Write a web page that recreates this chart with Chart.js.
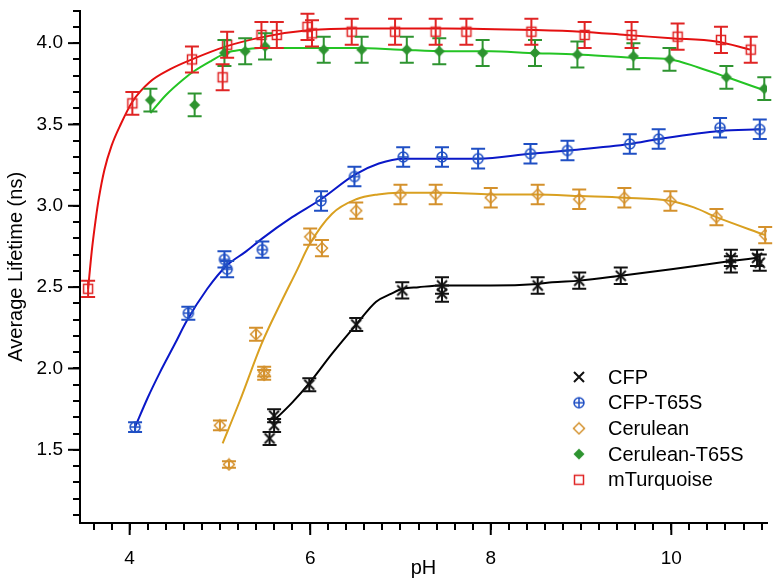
<!DOCTYPE html>
<html>
<head>
<meta charset="utf-8">
<script src="https://cdn.jsdelivr.net/npm/chart.js@4.4.0/dist/chart.umd.min.js"></script>
<style>
  html, body { margin: 0; padding: 0; background: #fff; }
  canvas { display: block; }
</style>
</head>
<body>
<canvas id="chart" width="782" height="586"></canvas>
<script>
const FONT = "'Liberation Sans', Arial, Helvetica, sans-serif"

// measured points: pH, average lifetime (ns), error
const phCFP  = [5.55, 5.60, 5.60, 5.99, 6.51, 7.02, 7.46, 7.46, 8.52, 8.98, 9.44, 10.66, 10.66, 10.95, 10.98]
const tauCFP = [1.57, 1.65, 1.71, 1.90, 2.27, 2.48, 2.51, 2.46, 2.51, 2.54, 2.57, 2.68, 2.64, 2.68, 2.65]
const errCFP = [0.04, 0.04, 0.04, 0.04, 0.04, 0.05, 0.05, 0.05, 0.05, 0.05, 0.05, 0.05, 0.05, 0.05, 0.05]

const phT65S  = [4.06, 4.65, 5.05, 5.08, 5.47, 6.12, 6.49, 7.03, 7.46, 7.86, 8.44, 8.85, 9.54, 9.86, 10.54, 10.98]
const tauT65S = [1.64, 2.34, 2.67, 2.61, 2.73, 3.03, 3.18, 3.30, 3.30, 3.29, 3.32, 3.34, 3.38, 3.41, 3.48, 3.47]
const errT65S = [0.03, 0.04, 0.05, 0.05, 0.05, 0.06, 0.06, 0.06, 0.06, 0.06, 0.06, 0.06, 0.06, 0.06, 0.06, 0.06]

const phCer  = [5.00, 5.10, 5.40, 5.49, 5.49, 6.00, 6.13, 6.51, 7.00, 7.39, 8.00, 8.52, 8.98, 9.48, 9.99, 10.50, 11.04]
const tauCer = [1.65, 1.41, 2.21, 1.98, 1.96, 2.81, 2.74, 2.97, 3.07, 3.07, 3.05, 3.07, 3.04, 3.05, 3.03, 2.93, 2.82]
const errCer = [0.03, 0.02, 0.04, 0.03, 0.03, 0.05, 0.05, 0.05, 0.06, 0.06, 0.06, 0.06, 0.06, 0.06, 0.06, 0.05, 0.05]

const phCerT  = [4.23, 4.72, 5.05, 5.28, 5.50, 6.15, 6.57, 7.07, 7.43, 7.91, 8.49, 8.96, 9.58, 9.98, 10.61, 11.03]
const tauCerT = [3.65, 3.62, 3.94, 3.95, 3.98, 3.96, 3.96, 3.96, 3.95, 3.94, 3.94, 3.93, 3.92, 3.90, 3.79, 3.72]
const errCerT = [0.07, 0.07, 0.08, 0.08, 0.08, 0.08, 0.08, 0.08, 0.08, 0.08, 0.08, 0.08, 0.08, 0.07, 0.07, 0.07]

const phTurq  = [3.54, 4.03, 4.69, 5.03, 5.08, 5.46, 5.63, 5.97, 6.02, 6.46, 6.94, 7.39, 7.73, 8.45, 9.04, 9.56, 10.07, 10.55, 10.88]
const tauTurq = [2.49, 3.63, 3.90, 3.79, 3.99, 4.05, 4.05, 4.10, 4.06, 4.07, 4.07, 4.07, 4.07, 4.07, 4.05, 4.05, 4.04, 4.02, 3.96]
const errTurq = [0.05, 0.07, 0.08, 0.08, 0.08, 0.08, 0.08, 0.08, 0.08, 0.08, 0.08, 0.08, 0.08, 0.08, 0.08, 0.08, 0.08, 0.08, 0.08]

// fitted curves
const fitCFPx = [5.60, 5.80, 5.99, 6.24, 6.51, 6.73, 6.90, 7.02, 7.20, 7.46, 8.00, 8.52, 8.68, 8.98, 9.44, 10.00, 10.66, 10.95]
const fitCFPy = [1.68, 1.79, 1.91, 2.09, 2.27, 2.41, 2.46, 2.49, 2.50, 2.51, 2.51, 2.52, 2.53, 2.54, 2.57, 2.61, 2.66, 2.68]

const fitT65Sx = [4.06, 4.20, 4.33, 4.50, 4.63, 4.86, 5.07, 5.29, 5.47, 5.80, 6.12, 6.49, 6.76, 7.03, 7.46, 7.86, 8.44, 8.85, 9.54, 9.86, 10.54, 10.98]
const fitT65Sy = [1.64, 1.82, 1.97, 2.15, 2.29, 2.49, 2.63, 2.72, 2.80, 2.93, 3.04, 3.19, 3.26, 3.29, 3.29, 3.29, 3.32, 3.34, 3.38, 3.41, 3.46, 3.47]

const fitCerx = [5.03, 5.22, 5.46, 5.68, 5.85, 5.99, 6.24, 6.51, 6.75, 6.98, 7.50, 8.00, 8.50, 9.00, 9.48, 9.99, 10.25, 10.50, 11.04]
const fitCery = [1.54, 1.80, 2.15, 2.41, 2.60, 2.76, 2.95, 3.04, 3.07, 3.08, 3.08, 3.07, 3.07, 3.06, 3.05, 3.03, 2.99, 2.93, 2.82]

const fitCerTx = [4.23, 4.40, 4.60, 4.72, 4.90, 5.07, 5.25, 5.44, 5.70, 6.00, 6.50, 7.00, 7.50, 8.00, 8.42, 8.96, 9.58, 9.99, 10.30, 10.62, 11.03]
const fitCerTy = [3.57, 3.68, 3.78, 3.83, 3.89, 3.94, 3.96, 3.97, 3.97, 3.97, 3.97, 3.96, 3.95, 3.95, 3.94, 3.93, 3.91, 3.90, 3.85, 3.79, 3.71]

const fitTurqx = [3.54, 3.58, 3.62, 3.66, 3.72, 3.80, 3.90, 4.03, 4.22, 4.45, 4.69, 5.07, 5.50, 6.00, 6.50, 7.50, 8.50, 9.00, 9.50, 10.00, 10.50, 10.88]
const fitTurqy = [2.49, 2.72, 2.90, 3.05, 3.22, 3.37, 3.50, 3.64, 3.76, 3.84, 3.90, 3.98, 4.04, 4.08, 4.09, 4.09, 4.08, 4.07, 4.05, 4.03, 4.01, 3.96]

const seriesNames = ["CFP", "CFP-T65S", "Cerulean", "Cerulean-T65S", "mTurquoise"]

const series = [
    {xs: phCFP,  ys: tauCFP,  errs: errCFP,  fx: fitCFPx,  fy: fitCFPy,  marker: "x",           color: "#111111", line: "#000000"},
    {xs: phT65S, ys: tauT65S, errs: errT65S, fx: fitT65Sx, fy: fitT65Sy, marker: "circlePlus",  color: "#1f4fc4", line: "#0a18c8"},
    {xs: phCer,  ys: tauCer,  errs: errCer,  fx: fitCerx,  fy: fitCery,  marker: "diamond",     color: "#d4912c", line: "#d9a020"},
    {xs: phCerT, ys: tauCerT, errs: errCerT, fx: fitCerTx, fy: fitCerTy, marker: "diamondFill", color: "#2e9430", line: "#24c424"},
    {xs: phTurq, ys: tauTurq, errs: errTurq, fx: fitTurqx, fy: fitTurqy, marker: "square",      color: "#e02424", line: "#e41010"}
]

function makeMarker(kind, color){
    const size = 14
    const c = document.createElement("canvas")
    c.width = size
    c.height = size
    const g = c.getContext("2d")
    g.strokeStyle = color
    g.fillStyle = color
    g.lineWidth = 1.5
    const m = size / 2
    g.beginPath()
    if (kind === "x"){
        g.lineWidth = 2
        g.moveTo(m - 5, m - 5); g.lineTo(m + 5, m + 5)
        g.moveTo(m + 5, m - 5); g.lineTo(m - 5, m + 5)
        g.stroke()
    } else if (kind === "circlePlus"){
        g.arc(m, m, 5, 0, Math.PI * 2)
        g.moveTo(m - 5, m); g.lineTo(m + 5, m)
        g.moveTo(m, m - 5); g.lineTo(m, m + 5)
        g.stroke()
    } else if (kind === "diamond" || kind === "diamondFill"){
        g.moveTo(m, m - 5.5); g.lineTo(m + 5.5, m); g.lineTo(m, m + 5.5); g.lineTo(m - 5.5, m)
        g.closePath()
        if (kind === "diamondFill") g.fill()
        else g.stroke()
    } else {
        g.rect(m - 4.5, m - 4.5, 9, 9)
        g.stroke()
    }
    return c
}

function points(xs, ys){
    return xs.map((x, i) => ({x: x, y: ys[i]}))
}

const datasets = []
series.forEach((s, i) => {
    s.img = makeMarker(s.marker, s.color)
    datasets.push({
        label: seriesNames[i],
        data: points(s.xs, s.ys),
        errors: s.errs,
        errColor: s.color,
        pointStyle: s.img,
        pointRadius: 7,
        showLine: false
    })
    datasets.push({
        label: seriesNames[i] + " fit",
        data: points(s.fx, s.fy),
        showLine: true,
        borderColor: s.line,
        borderWidth: 2,
        pointRadius: 0,
        cubicInterpolationMode: "monotone",
        fill: false
    })
})

// error bars with caps
const errorBars = {
    id: "errorBars",
    afterDatasetsDraw(chart){
        const ctx = chart.ctx
        const xs = chart.scales.x, ys = chart.scales.y
        ctx.save()
        chart.data.datasets.forEach(ds => {
            if (!ds.errors) return
            ctx.strokeStyle = ds.errColor
            ctx.lineWidth = 2
            ds.data.forEach((p, i) => {
                const px = xs.getPixelForValue(p.x)
                const top = ys.getPixelForValue(p.y + ds.errors[i])
                const bot = ys.getPixelForValue(p.y - ds.errors[i])
                ctx.beginPath()
                ctx.moveTo(px, top); ctx.lineTo(px, bot)
                ctx.moveTo(px - 7, top); ctx.lineTo(px + 7, top)
                ctx.moveTo(px - 7, bot); ctx.lineTo(px + 7, bot)
                ctx.stroke()
            })
        })
        ctx.restore()
    }
}

// lengthen the labelled (major) tick marks
const majorTicks = {
    id: "majorTicks",
    afterDraw(chart){
        const ctx = chart.ctx
        const area = chart.chartArea
        ctx.save()
        ctx.strokeStyle = "#000"
        ctx.lineWidth = 2
        const sx = chart.scales.x
        for (let v = 4; v <= sx.max; v += 2){
            const px = sx.getPixelForValue(v)
            ctx.beginPath()
            ctx.moveTo(px, area.bottom); ctx.lineTo(px, area.bottom + 12)
            ctx.stroke()
        }
        const sy = chart.scales.y
        for (let v = 1.5; v <= sy.max + 1e-9; v += 0.5){
            const py = sy.getPixelForValue(v)
            ctx.beginPath()
            ctx.moveTo(area.left - 12, py); ctx.lineTo(area.left, py)
            ctx.stroke()
        }
        ctx.restore()
    }
}

// legend inside the plot, bottom right
const insideLegend = {
    id: "insideLegend",
    afterDraw(chart){
        const ctx = chart.ctx
        const area = chart.chartArea
        const mx = area.right - 188
        const y0 = area.bottom - 146
        ctx.save()
        ctx.font = "20px " + FONT
        ctx.fillStyle = "#000"
        ctx.textBaseline = "middle"
        series.forEach((s, i) => {
            const y = y0 + i * 25.7
            ctx.drawImage(s.img, mx - 7, y - 7)
            ctx.fillText(seriesNames[i], mx + 29, y + 1)
        })
        ctx.restore()
    }
}

const tickGrid = {display: true, drawOnChartArea: false, drawTicks: true, tickLength: 7, color: "#000", tickColor: "#000", lineWidth: 2}

new Chart(document.getElementById("chart"), {
    type: "scatter",
    data: {datasets: datasets},
    plugins: [errorBars, majorTicks, insideLegend],
    options: {
        responsive: false,
        animation: false,
        events: [],
        layout: {padding: {left: 0, top: 7, right: 15, bottom: 0}},
        plugins: {legend: {display: false}, tooltip: {enabled: false}},
        scales: {
            x: {
                type: "linear",
                min: 3.45,
                max: 11.06,
                afterFit: s => { s.height = 63 },
                border: {display: true, color: "#000", width: 2},
                grid: tickGrid,
                ticks: {
                    stepSize: 0.2,
                    includeBounds: false,
                    autoSkip: false,
                    maxRotation: 0,
                    padding: 17,
                    color: "#000",
                    font: {family: FONT, size: 19},
                    callback: v => {
                        const r = Math.round(v)
                        return (Math.abs(v - r) < 1e-6 && r % 2 === 0) ? String(r) : ""
                    }
                },
                title: {display: true, text: "pH", color: "#000", font: {family: FONT, size: 20}, padding: {top: 0, bottom: 6}}
            },
            y: {
                type: "linear",
                min: 1.05,
                max: 4.2,
                afterFit: s => { s.width = 80 },
                border: {display: true, color: "#000", width: 2},
                grid: tickGrid,
                ticks: {
                    stepSize: 0.1,
                    includeBounds: false,
                    autoSkip: false,
                    padding: 10,
                    color: "#000",
                    // the unlabelled top tick gets a tiny font so it adds no top padding
                    font: c => ({family: FONT, size: (c.tick && c.tick.value > 4.15) ? 1 : 19}),
                    callback: v => {
                        const r = Math.round(v * 2) / 2
                        return Math.abs(v - r) < 1e-6 ? r.toFixed(1) : ""
                    }
                },
                title: {display: true, text: "Average Lifetime (ns)", color: "#000", font: {family: FONT, size: 20}, padding: {top: 4, bottom: 0}}
            }
        }
    }
})
</script>
</body>
</html>
